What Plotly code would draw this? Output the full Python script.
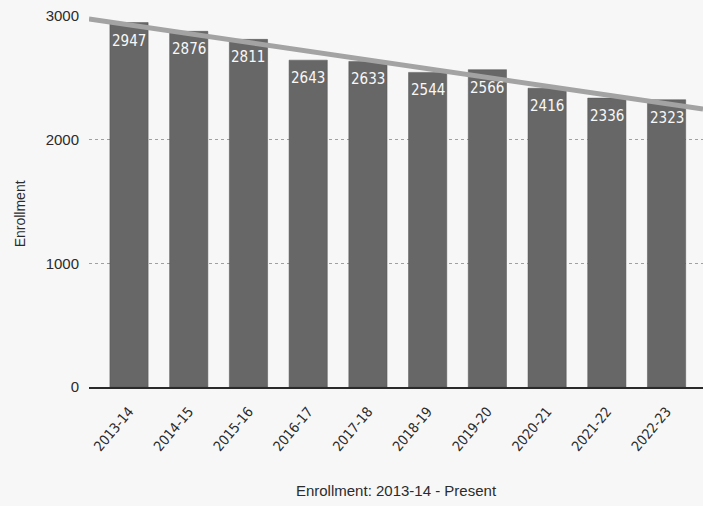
import numpy as np
import plotly.graph_objects as go

years = ["2013-14", "2014-15", "2015-16", "2016-17", "2017-18",
         "2018-19", "2019-20", "2020-21", "2021-22", "2022-23"]
enrollment = [2947, 2876, 2811, 2643, 2633, 2544, 2566, 2416, 2336, 2323]

x = np.arange(len(years))
x_range = [-0.67, 9.61]

# least-squares trend line across the full plot width
slope, intercept = np.polyfit(x, enrollment, 1)
trend_x = np.array(x_range)
trend_y = slope * trend_x + intercept

label_font = "Liberation Sans Narrow, DejaVu Sans Condensed, Liberation Sans, Arial, sans-serif"
axis_font = "Liberation Sans, Arial, sans-serif"

fig = go.Figure()
fig.add_trace(go.Bar(
    x=x, y=enrollment, width=0.64,
    marker=dict(color="#676767", line=dict(color="#555555", width=0.5)),
    hoverinfo="x+y",
))
fig.add_trace(go.Scatter(
    x=trend_x, y=trend_y, mode="lines",
    line=dict(color="#a3a3a3", width=5),
    hoverinfo="skip", cliponaxis=False,
))

for xi, v in zip(x, enrollment):
    fig.add_annotation(
        x=xi, y=v, text=str(v), showarrow=False,
        yanchor="top", yshift=-7,
        font=dict(family=label_font, size=15, color="#f8f8f8"),
    )

# vertical y-axis title, placed slightly below the plot's middle
fig.add_annotation(
    text="Enrollment", xref="paper", yref="paper",
    x=-0.112, y=0.466, xanchor="center", yanchor="middle",
    textangle=-90, showarrow=False,
    font=dict(size=14, color="#2b2b2b"),
)

fig.update_layout(
    width=703, height=506,
    margin=dict(l=89, r=0, t=16, b=119),
    paper_bgcolor="#f7f7f7", plot_bgcolor="#f7f7f7",
    showlegend=False,
    font=dict(family=axis_font, color="#333333"),
)
fig.update_xaxes(
    range=x_range, tickmode="array", tickvals=x, ticktext=years,
    tickangle=-50, tickfont=dict(family=label_font, size=14, color="#2b2b2b"),
    showgrid=False, showline=True, linecolor="#2a2a2a", linewidth=1.5,
    ticks="", zeroline=False, ticklabelstandoff=9,
    title=dict(text="Enrollment: 2013-14 - Present", standoff=32,
               font=dict(size=15, color="#2b2b2b")),
)
fig.update_yaxes(
    range=[0, 3000], tickvals=[0, 1000, 2000, 3000],
    tickfont=dict(size=15, color="#2b2b2b"),
    showgrid=True, gridcolor="#a0a0a0", griddash="dot", gridwidth=1,
    zeroline=False, showline=False, ticks="", ticklabelstandoff=9,
)

fig.write_html("out.html")
